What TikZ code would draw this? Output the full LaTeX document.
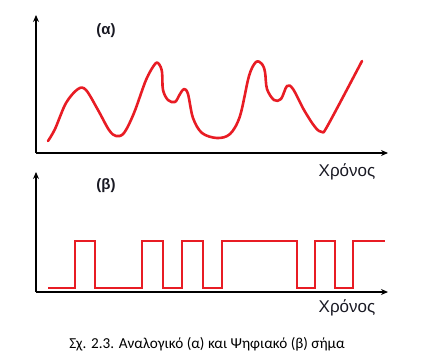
\documentclass[tikz,border=0pt]{standalone}
\usepackage{fontspec}
\setmainfont{Liberation Sans}
\newfontfamily\capfont{Carlito}
\usetikzlibrary{arrows.meta}
\definecolor{sigred}{RGB}{232,28,36}
\definecolor{labtxt}{RGB}{25,25,35}
\tikzset{
  axis/.style={line width=1.6pt, -{Stealth[length=7pt,width=6pt]}},
  analog/.style={sigred, line width=2.6pt, line join=round, line cap=round},
  digital/.style={sigred, line width=2.2pt, line join=miter},
  panellabel/.style={font=\bfseries\fontsize{15}{17}\selectfont, text=labtxt, inner sep=0pt},
  timelabel/.style={font=\fontsize{17}{19}\selectfont, text=labtxt, inner sep=0pt},
  caption/.style={font=\capfont\fontsize{15.2}{17}\selectfont, text=black, inner sep=0pt}
}
\begin{document}
\begin{tikzpicture}[x=1pt,y=-1pt]
\useasboundingbox (0,0) rectangle (429,362);
% top axes
\coordinate (o1) at (36,153);
\coordinate (y1) at (36,15);
\coordinate (x1) at (388,153);
\draw[axis] (o1) -- (y1);
\draw[axis] (o1) -- (x1);
% analog signal
\draw[analog] plot[smooth, tension=0.55] coordinates {
(48,141) (55,129) (66,103) (78,89) (86,90) (98,110) (109,130) (116,136) (124,133) (134,113) (146,80) (155,64) (159,64) (162,72) (163,90) (168,100) (175,102) (180,94) (184,89) (188,94) (193,118) (202,133) (217,138) (230,134) (240,116) (249,76) (256,62) (262,64) (265,72) (267,89) (274,100) (281,99) (287,86) (293,89) (304,110) (315,127) (322,132) (328,125) (362,61)};
\node[panellabel] (la) at (106,31) {(α)};
\node[timelabel] (ta) at (347,172) {Χρόνος};
% bottom axes
\coordinate (o2) at (36,292);
\coordinate (y2) at (36,172);
\coordinate (x2) at (388,292);
\draw[axis] (o2) -- (y2);
\draw[axis] (o2) -- (x2);
% digital signal
\draw[digital] (48,288) -- (75,288) -- (75,241) -- (95,241) -- (95,288)
  -- (142,288) -- (142,241) -- (163,241) -- (163,288)
  -- (182,288) -- (182,241) -- (203,241) -- (203,288)
  -- (222,288) -- (222,241) -- (297,241) -- (297,288)
  -- (315,288) -- (315,241) -- (335,241) -- (335,288)
  -- (353,288) -- (353,241) -- (385,241);
\node[panellabel] (lb) at (106,186) {(β)};
\node[timelabel] (tb) at (347,308) {Χρόνος};
\node[caption] (cap) at (207,344) {Σχ. 2.3. Αναλογικό (α) και Ψηφιακό (β) σήμα};
\end{tikzpicture}
\end{document}
